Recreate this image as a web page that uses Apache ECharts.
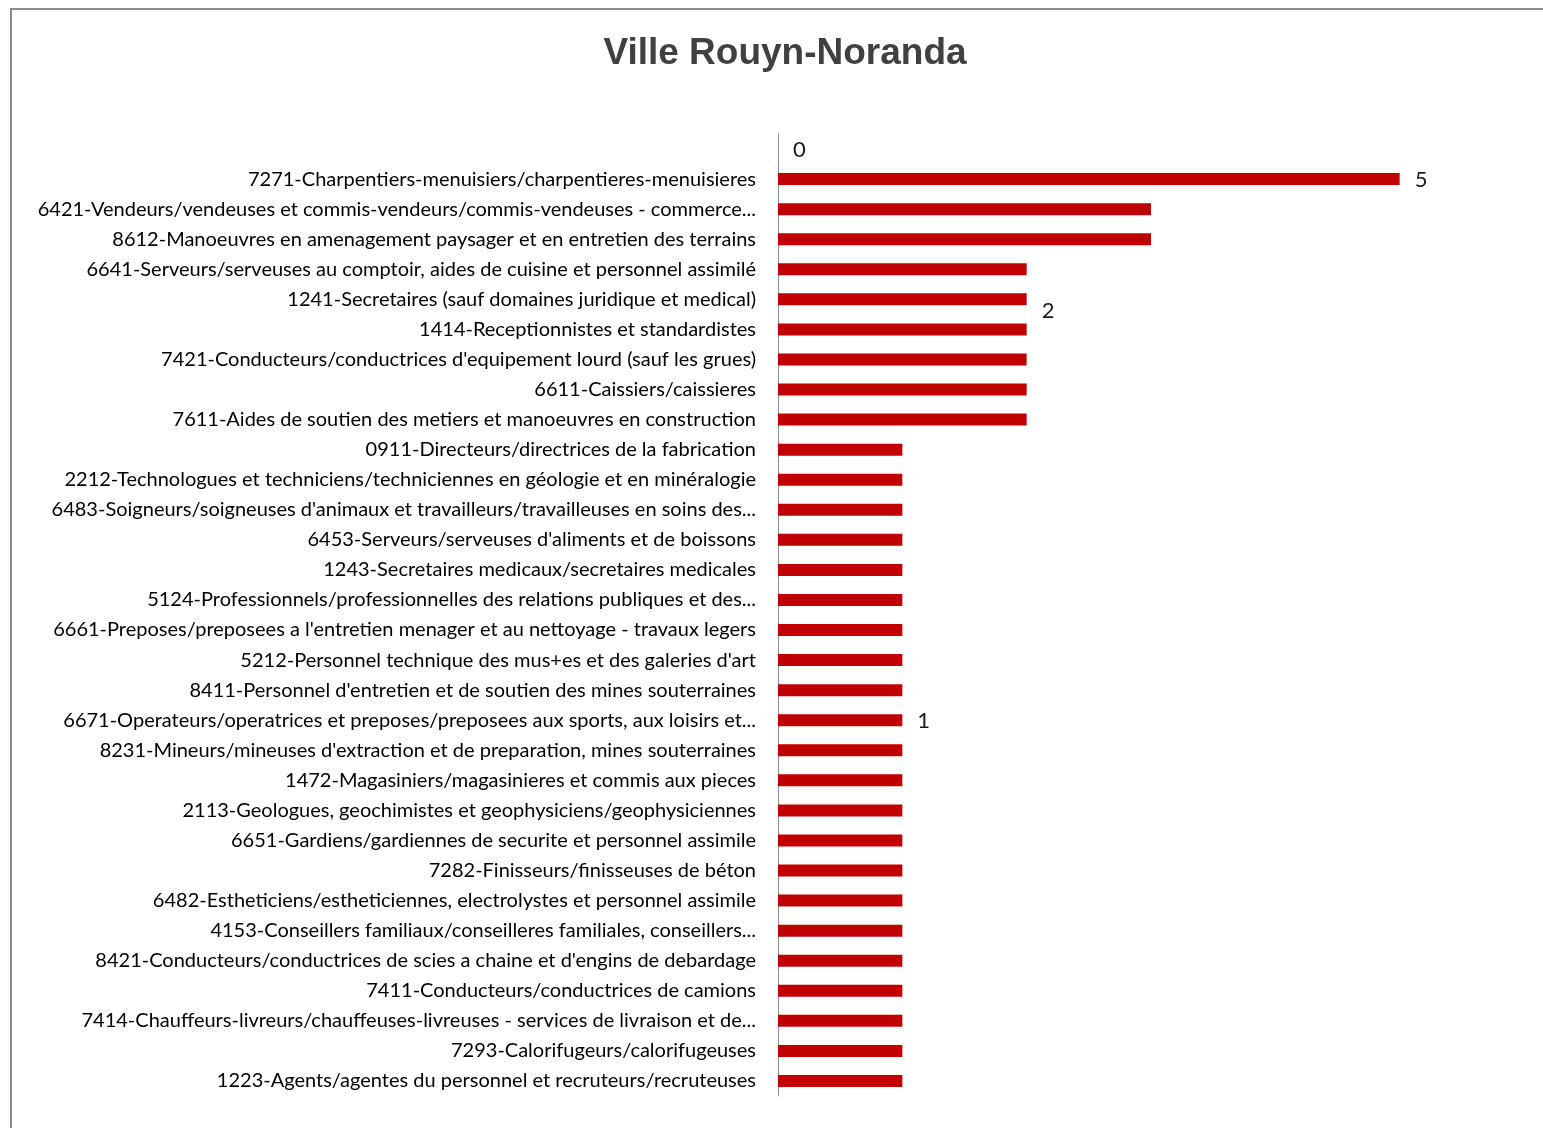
<!DOCTYPE html>
<html>
<head>
<meta charset="utf-8">
<script src="https://cdn.jsdelivr.net/npm/echarts@6/dist/echarts.min.js"></script>
<style>
  html, body { margin: 0; padding: 0; background: #fff; }
  #frame { position: absolute; left: 10px; top: 8px; width: 1540px; height: 1130px;
           border-left: 2px solid #8c8c8c; border-top: 2px solid #8c8c8c; }
  #chart { position: absolute; left: 0; top: 0; width: 1543px; height: 1128px; }
</style>
</head>
<body>
<div id="frame"></div>
<div id="chart"></div>
<script>
// categories, top to bottom (first slot is the empty one carrying the "0" label)
const categories = [
    '',
    '7271-Charpentiers-menuisiers/charpentieres-menuisieres',
    '6421-Vendeurs/vendeuses et commis-vendeurs/commis-vendeuses - commerce...',
    '8612-Manoeuvres en amenagement paysager et en entretien des terrains',
    '6641-Serveurs/serveuses au comptoir, aides de cuisine et personnel assimilé',
    '1241-Secretaires (sauf domaines juridique et medical)',
    '1414-Receptionnistes et standardistes',
    "7421-Conducteurs/conductrices d'equipement lourd (sauf les grues)",
    '6611-Caissiers/caissieres',
    '7611-Aides de soutien des metiers et manoeuvres en construction',
    '0911-Directeurs/directrices de la fabrication',
    '2212-Technologues et techniciens/techniciennes en géologie et en minéralogie',
    "6483-Soigneurs/soigneuses d'animaux et travailleurs/travailleuses en soins des...",
    "6453-Serveurs/serveuses d'aliments et de boissons",
    '1243-Secretaires medicaux/secretaires medicales',
    '5124-Professionnels/professionnelles des relations publiques et des...',
    "6661-Preposes/preposees a l'entretien menager et au nettoyage - travaux legers",
    "5212-Personnel technique des mus+es et des galeries d'art",
    "8411-Personnel d'entretien et de soutien des mines souterraines",
    '6671-Operateurs/operatrices et preposes/preposees aux sports, aux loisirs et...',
    "8231-Mineurs/mineuses d'extraction et de preparation, mines souterraines",
    '1472-Magasiniers/magasinieres et commis aux pieces',
    '2113-Geologues, geochimistes et geophysiciens/geophysiciennes',
    '6651-Gardiens/gardiennes de securite et personnel assimile',
    '7282-Finisseurs/finisseuses de béton',
    '6482-Estheticiens/estheticiennes, electrolystes et personnel assimile',
    '4153-Conseillers familiaux/conseilleres familiales, conseillers...',
    "8421-Conducteurs/conductrices de scies a chaine et d'engins de debardage",
    '7411-Conducteurs/conductrices de camions',
    '7414-Chauffeurs-livreurs/chauffeuses-livreuses - services de livraison et de...',
    '7293-Calorifugeurs/calorifugeuses',
    '1223-Agents/agentes du personnel et recruteurs/recruteuses'
];
const values = [0, 5, 3, 3, 2, 2, 2, 2, 2, 2, 1, 1, 1, 1, 1, 1, 1, 1, 1, 1, 1, 1, 1, 1, 1, 1, 1, 1, 1, 1, 1, 1];
// indices of the bars that show a value label
const labelled = [0, 1, 5, 19];

const chart = echarts.init(document.getElementById('chart'));
chart.setOption({
    animation: false,
    title: {
        text: 'Ville Rouyn-Noranda',
        left: 780,
        textAlign: 'center',
        top: 30,
        textStyle: { fontFamily: 'Liberation Sans', fontSize: 37, fontWeight: 'bold', color: '#404040' }
    },
    grid: { left: 778, right: 19, top: 134, bottom: 32, containLabel: false },
    xAxis: {
        type: 'value', min: 0, max: 6,
        show: false
    },
    yAxis: {
        type: 'category',
        inverse: true,
        data: categories,
        axisLine: { lineStyle: { color: '#8c8c8c', width: 1 } },
        axisTick: { show: false },
        axisLabel: { margin: 22, color: '#000', fontFamily: 'Lato', fontSize: 20, padding: [3, 0, 0, 0] }
    },
    series: [{
        type: 'bar',
        barWidth: 12,
        itemStyle: { color: '#C00000' },
        data: values.map((v, i) => {
            const item = { value: v };
            if (labelled.includes(i)) {
                item.label = {
                    show: true, position: 'right', distance: 15,
                    color: '#1a1a1a', fontFamily: 'Lato', fontSize: 22,
                    offset: i === 5 ? [0, 12] : [0, 1]
                };
            }
            return item;
        })
    }]
});
</script>
</body>
</html>
